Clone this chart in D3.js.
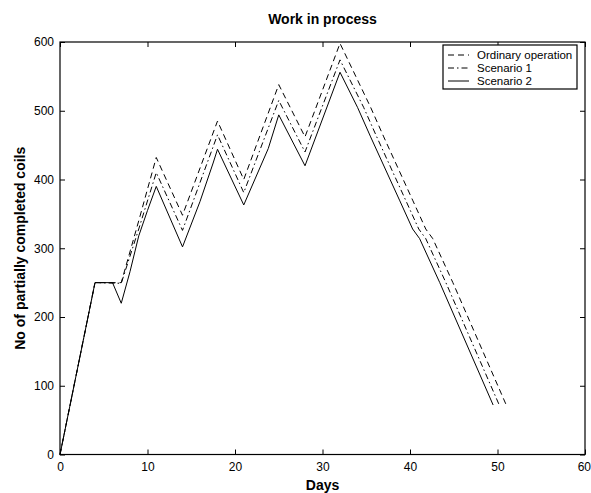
<!DOCTYPE html>
<html>
<head>
<meta charset="utf-8">
<script src="https://cdn.jsdelivr.net/npm/d3@7"></script>
<style>
  body { margin: 0; background: #fff; }
  svg { display: block; }
  text { font-family: "Liberation Sans", Arial, Helvetica, sans-serif; fill: #000; }
</style>
</head>
<body>
<svg id="chart" width="591" height="493"></svg>
<script>
// ---- data ----
const title = "Work in process";
const xLabel = "Days";
const yLabel = "No of partially completed coils";
const xTicks = [0, 10, 20, 30, 40, 50, 60];
const yTicks = [0, 100, 200, 300, 400, 500, 600];
const seriesNames = ["Ordinary operation", "Scenario 1", "Scenario 2"];

const ordinaryDays = [0, 4, 7, 9, 11, 14, 18, 21, 25, 28, 32, 35.5, 37, 40.3, 41.8, 42.6, 44.9, 51];
const ordinaryWip  = [0, 250, 250, 340, 432, 348, 485, 400, 538, 462, 598, 505, 462, 370, 328, 314, 250, 72];

const scenario1Days = [0, 4, 7, 9, 11, 14, 18, 21, 25, 28, 32, 34.7, 36.2, 39.5, 41, 41.8, 44.1, 50.2];
const scenario1Wip  = [0, 250, 249, 328, 410, 326, 465, 381, 515, 440, 574, 505, 462, 370, 328, 314, 250, 72];

const scenario2Days = [0, 4, 6, 7, 8, 9, 10, 11, 14, 16, 17.5, 18, 21, 23.8, 25, 28, 32, 34, 35.5, 38.8, 40.3, 41.1, 43.4, 49.5];
const scenario2Wip  = [0, 250, 250, 220, 266, 318, 355, 390, 302, 368, 424, 444, 363, 445, 494, 420, 556, 505, 462, 370, 328, 314, 250, 72];

// ---- layout ----
const svg = d3.select("#chart");
const W = 591, H = 493;
const m = { left: 60, right: 6, top: 42, bottom: 38.5 };
const xs = d3.scaleLinear().domain([0, 60]).range([m.left, W - m.right]);
const ys = d3.scaleLinear().domain([0, 600]).range([H - m.bottom, m.top]);

const series = [
  { name: seriesNames[0], days: ordinaryDays, wip: ordinaryWip, dash: "6,4" },
  { name: seriesNames[1], days: scenario1Days, wip: scenario1Wip, dash: "6,3,1.5,3" },
  { name: seriesNames[2], days: scenario2Days, wip: scenario2Wip, dash: null }
];

const lineGen = d3.line().x(d => xs(d[0])).y(d => ys(d[1]));
const plot = svg.append("g");
series.forEach(s => {
  plot.append("path")
    .datum(s.days.map((d, i) => [d, s.wip[i]]))
    .attr("d", lineGen)
    .attr("fill", "none")
    .attr("stroke", "#000")
    .attr("stroke-width", 1)
    .attr("stroke-dasharray", s.dash);
});

// axes (ticks inward, box)
const tickLen = 5;
const fs = 12;
const axB = d3.axisBottom(xs).tickValues(xTicks).tickSize(-tickLen).tickPadding(8).tickFormat(d3.format("d"));
const axT = d3.axisTop(xs).tickValues(xTicks).tickSize(-tickLen).tickFormat("");
const axL = d3.axisLeft(ys).tickValues(yTicks).tickSize(-tickLen).tickPadding(6).tickFormat(d3.format("d"));
const axR = d3.axisRight(ys).tickValues(yTicks).tickSize(-tickLen).tickFormat("");

function styleAxis(g) {
  g.select(".domain").remove();
  g.selectAll(".tick line").attr("stroke", "#000").attr("stroke-width", 1);
  g.selectAll("text").attr("font-size", fs).attr("font-family", "Liberation Sans, Arial, sans-serif");
}
const gB = svg.append("g").attr("transform", `translate(0,${ys(0)})`).call(axB).call(styleAxis);
// keep the last x label inside the picture
gB.selectAll(".tick text").filter(d => d === 60).attr("text-anchor", "end").attr("x", W - xs(60) - 0.5);
svg.append("g").attr("transform", `translate(0,${ys(600)})`).call(axT).call(styleAxis);
svg.append("g").attr("transform", `translate(${xs(0)},0)`).call(axL).call(styleAxis);
svg.append("g").attr("transform", `translate(${xs(60)},0)`).call(axR).call(styleAxis);

svg.append("rect")
  .attr("x", xs(0)).attr("y", ys(600))
  .attr("width", xs(60) - xs(0)).attr("height", ys(0) - ys(600))
  .attr("fill", "none").attr("stroke", "#000").attr("stroke-width", 1.2);

// titles
svg.append("text").attr("x", (xs(0) + xs(60)) / 2).attr("y", 24)
  .attr("text-anchor", "middle").attr("font-size", 14).attr("font-weight", "bold").text(title);
svg.append("text").attr("x", (xs(0) + xs(60)) / 2).attr("y", 490)
  .attr("text-anchor", "middle").attr("font-size", 14).attr("font-weight", "bold").text(xLabel);
svg.append("text")
  .attr("transform", `translate(25,${(ys(0) + ys(600)) / 2}) rotate(-90)`)
  .attr("text-anchor", "middle").attr("font-size", 14).attr("font-weight", "bold").text(yLabel);

// legend
const lg = svg.append("g");
const lx = 443, ly = 45, lw = 134, lh = 44;
lg.append("rect").attr("x", lx).attr("y", ly).attr("width", lw).attr("height", lh)
  .attr("fill", "#fff").attr("stroke", "#000").attr("stroke-width", 1.2);
series.forEach((s, i) => {
  const yy = ly + 10 + i * 13;
  lg.append("line").attr("x1", lx + 5).attr("x2", lx + 26).attr("y1", yy).attr("y2", yy)
    .attr("stroke", "#000").attr("stroke-width", 1).attr("stroke-dasharray", s.dash);
  lg.append("text").attr("x", lx + 34).attr("y", yy + 4).attr("font-size", 11.5).text(s.name);
});
</script>
</body>
</html>
